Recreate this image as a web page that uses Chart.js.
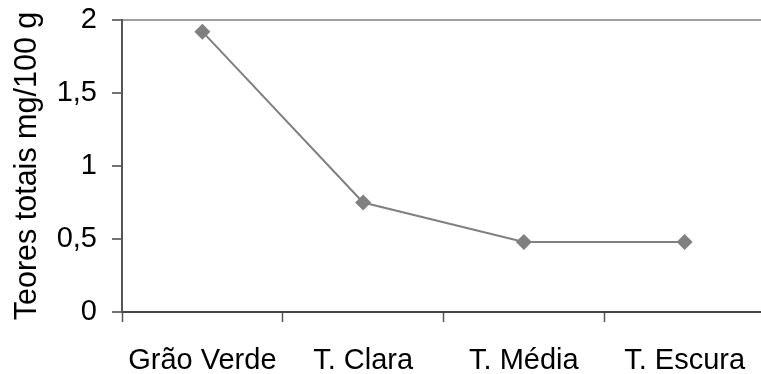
<!DOCTYPE html>
<html>
<head>
<meta charset="utf-8">
<script src="https://cdn.jsdelivr.net/npm/chart.js@4/dist/chart.umd.min.js"></script>
<style>
  html, body { margin: 0; padding: 0; background: #fff; overflow: hidden; }
  #wrap { width: 773px; height: 374px; position: relative; }
</style>
</head>
<body>
<div id="wrap"><canvas id="chart"></canvas></div>
<script>
// Categories and measured totals (mg/100 g)
const categories = ['Grão Verde', 'T. Clara', 'T. Média', 'T. Escura'];
const teores = [1.92, 0.75, 0.48, 0.48];
const yTicks = [0, 0.5, 1, 1.5, 2];
const yTitle = 'Teores totais mg/100 g';

const FONT = '"Liberation Sans", Arial, Helvetica, sans-serif';

new Chart(document.getElementById('chart'), {
  type: 'line',
  data: {
    labels: categories,
    datasets: [{
      data: teores,
      borderColor: '#808080',
      backgroundColor: '#808080',
      borderWidth: 2,
      tension: 0,
      pointStyle: 'rectRot',
      pointRadius: 8,
      pointHoverRadius: 8,
      pointBackgroundColor: '#808080',
      pointBorderColor: '#808080',
      pointBorderWidth: 0
    }]
  },
  options: {
    responsive: true,
    maintainAspectRatio: false,
    animation: false,
    events: [],
    layout: { padding: { top: 20, right: 0, left: 0, bottom: 0 } },
    plugins: {
      legend: { display: false },
      tooltip: { enabled: false }
    },
    scales: {
      x: {
        type: 'category',
        offset: true,
        afterFit: (s) => { s.height = 62; s.paddingLeft = 0; s.paddingRight = 0; },
        border: { display: true, color: '#444', width: 2 },
        grid: {
          offset: true,
          drawOnChartArea: false,
          drawTicks: true,
          tickLength: 10,
          tickColor: '#555',
          tickWidth: 1.5
        },
        ticks: {
          color: '#000',
          padding: 22,
          maxRotation: 0,
          autoSkip: false,
          font: { family: FONT, size: 29 }
        }
      },
      y: {
        min: 0,
        max: 2,
        afterFit: (s) => { s.width = 122; s.paddingTop = 0; s.paddingBottom = 0; },
        afterBuildTicks: (s) => { s.ticks = yTicks.map(v => ({ value: v })); },
        border: { display: true, color: '#555', width: 2 },
        grid: {
          drawTicks: true,
          tickLength: 10,
          tickColor: '#444',
          tickWidth: 1.5,
          lineWidth: 2,
          color: (ctx) => (ctx.tick && ctx.tick.value === 2) ? '#a0a0a0' : 'rgba(0,0,0,0)'
        },
        ticks: {
          color: '#000',
          padding: 15,
          font: { family: FONT, size: 29 },
          callback: (v) => String(v).replace('.', ',')
        },
        title: {
          display: true,
          text: yTitle,
          color: '#000',
          font: { family: FONT, size: 30.5 },
          padding: { top: 9, bottom: 0 }
        }
      }
    }
  }
});
</script>
</body>
</html>
